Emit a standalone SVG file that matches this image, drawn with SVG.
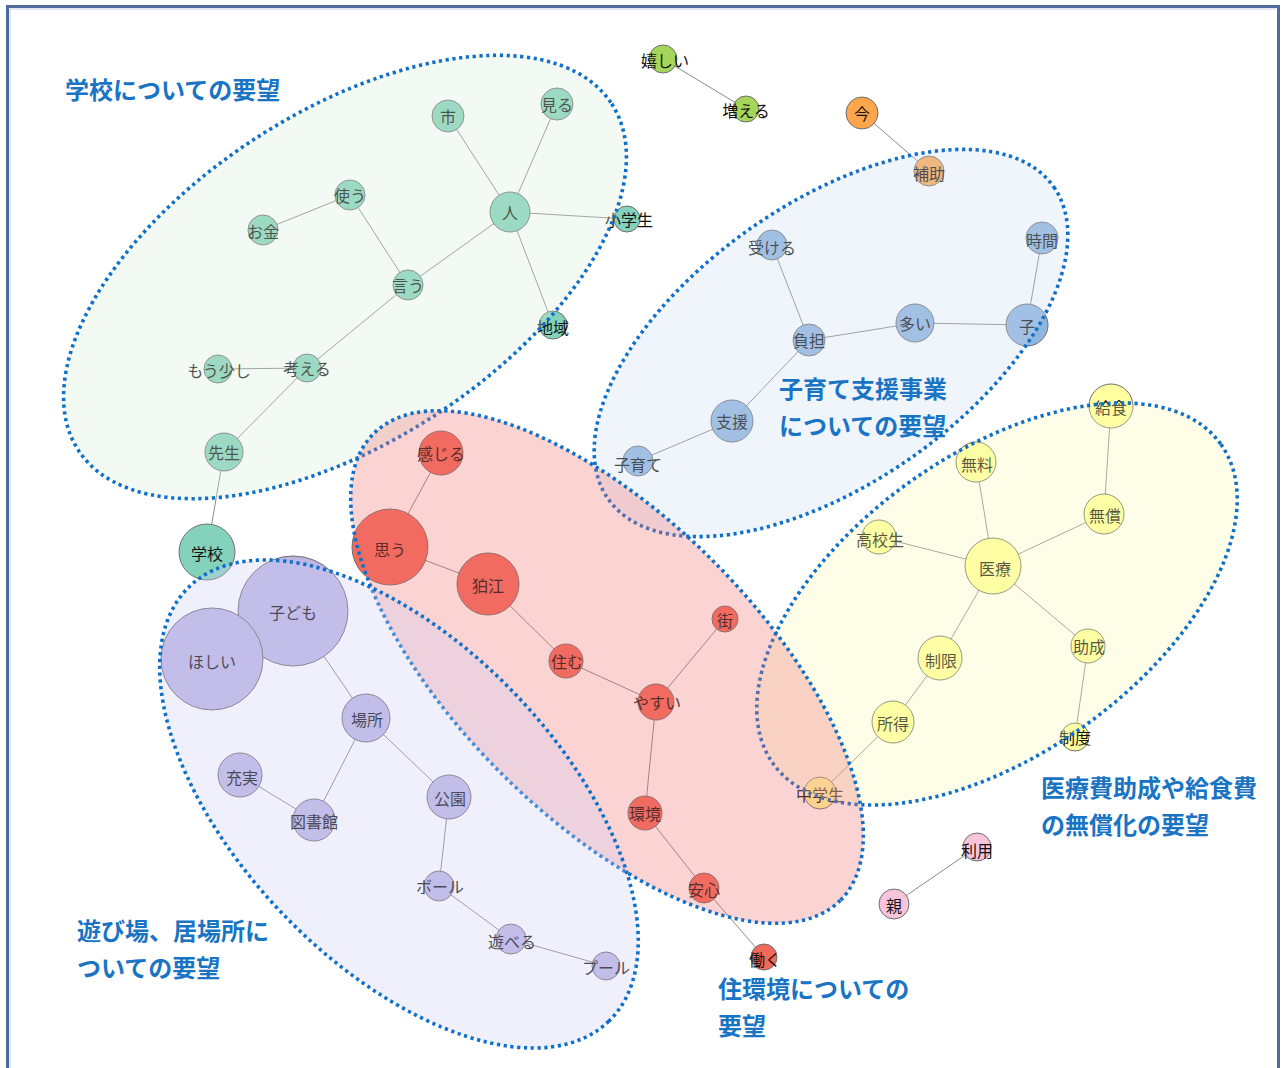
<svg xmlns="http://www.w3.org/2000/svg" width="1284" height="1068" viewBox="0 0 1284 1068">
<style>
.e{stroke:#8a8a8a;stroke-width:1;fill:none}
.n{stroke:#6e6e6e;stroke-width:1}
.t{font-family:"Noto Sans CJK JP","Noto Sans",sans-serif;font-size:16px;fill:#111;text-anchor:middle;dominant-baseline:central}
.L{font-family:"Noto Sans CJK JP","Noto Sans",sans-serif;font-size:24px;font-weight:bold;fill:#1a74c4}
.g{fill:#84d2bc}.r{fill:#f26a5b}.p{fill:#bdb6e4}.b{fill:#8fb4dd}.y{fill:#ffffa0}.o{fill:#ffa64d}.lg{fill:#a5d65a}.pk{fill:#f8c4dc}
.reg{fill-opacity:0.3;stroke:#1070c8;stroke-width:3.6;stroke-dasharray:3.2 3.6}
</style>
<rect x="0" y="0" width="1284" height="1068" fill="#ffffff"/>
<path d="M7.5 1070 V6.5 H1278.5 V1070" fill="none" stroke="#4f6a9c" stroke-width="3"/>
<path d="M10 1070 V9 H1276" fill="none" stroke="#c4d0e4" stroke-width="1"/>

<g id="connectors">
<line class="e" x1="448" y1="116" x2="510" y2="212"/>
<line class="e" x1="557" y1="104" x2="510" y2="212"/>
<line class="e" x1="510" y1="212" x2="627" y2="219"/>
<line class="e" x1="510" y1="212" x2="553" y2="325"/>
<line class="e" x1="510" y1="212" x2="408" y2="285"/>
<line class="e" x1="350" y1="195" x2="408" y2="285"/>
<line class="e" x1="350" y1="195" x2="263" y2="230"/>
<line class="e" x1="408" y1="285" x2="307" y2="368"/>
<line class="e" x1="307" y1="368" x2="218" y2="369"/>
<line class="e" x1="307" y1="368" x2="224" y2="452"/>
<line class="e" x1="224" y1="452" x2="207" y2="552"/>
<line class="e" x1="663" y1="59" x2="746" y2="109"/>
<line class="e" x1="862" y1="113" x2="929" y2="171"/>
<line class="e" x1="772" y1="245" x2="809" y2="340"/>
<line class="e" x1="809" y1="340" x2="915" y2="323"/>
<line class="e" x1="915" y1="323" x2="1027" y2="325"/>
<line class="e" x1="1027" y1="325" x2="1042" y2="238"/>
<line class="e" x1="809" y1="340" x2="732" y2="421"/>
<line class="e" x1="732" y1="421" x2="638" y2="461"/>
<line class="e" x1="441" y1="453" x2="390" y2="547"/>
<line class="e" x1="390" y1="547" x2="488" y2="584"/>
<line class="e" x1="488" y1="584" x2="566" y2="661"/>
<line class="e" x1="566" y1="661" x2="656" y2="702"/>
<line class="e" x1="725" y1="619" x2="656" y2="702"/>
<line class="e" x1="656" y1="702" x2="645" y2="813"/>
<line class="e" x1="645" y1="813" x2="704" y2="888"/>
<line class="e" x1="704" y1="888" x2="764" y2="957"/>
<line class="e" x1="293" y1="611" x2="366" y2="718"/>
<line class="e" x1="366" y1="718" x2="314" y2="820"/>
<line class="e" x1="366" y1="718" x2="449" y2="797"/>
<line class="e" x1="240" y1="775" x2="314" y2="820"/>
<line class="e" x1="449" y1="797" x2="439" y2="886"/>
<line class="e" x1="439" y1="886" x2="511" y2="939"/>
<line class="e" x1="511" y1="939" x2="606" y2="966"/>
<line class="e" x1="1111" y1="406" x2="1104" y2="514"/>
<line class="e" x1="1104" y1="514" x2="993" y2="566"/>
<line class="e" x1="976" y1="462" x2="993" y2="566"/>
<line class="e" x1="879" y1="537" x2="993" y2="566"/>
<line class="e" x1="993" y1="566" x2="940" y2="658"/>
<line class="e" x1="993" y1="566" x2="1088" y2="646"/>
<line class="e" x1="1088" y1="646" x2="1075" y2="737"/>
<line class="e" x1="940" y1="658" x2="893" y2="722"/>
<line class="e" x1="893" y1="722" x2="820" y2="793"/>
<line class="e" x1="977" y1="847" x2="894" y2="904"/>
</g>

<g id="node-市"><circle class="n g" cx="448" cy="116" r="16"/><text class="t" x="448" y="116">市</text></g>
<g id="node-見る"><circle class="n g" cx="557" cy="104" r="16"/><text class="t" x="557" y="104">見る</text></g>
<g id="node-人"><circle class="n g" cx="510" cy="212" r="20"/><text class="t" x="510" y="212">人</text></g>
<g id="node-小学生"><circle class="n g" cx="627" cy="219" r="13"/><text class="t" x="629" y="219">小学生</text></g>
<g id="node-使う"><circle class="n g" cx="350" cy="195" r="15"/><text class="t" x="350" y="195">使う</text></g>
<g id="node-お金"><circle class="n g" cx="263" cy="230" r="15"/><text class="t" x="263" y="231">お金</text></g>
<g id="node-言う"><circle class="n g" cx="408" cy="285" r="15"/><text class="t" x="408" y="285">言う</text></g>
<g id="node-地域"><circle class="n g" cx="553" cy="325" r="14"/><text class="t" x="553" y="327">地域</text></g>
<g id="node-もう少し"><circle class="n g" cx="218" cy="369" r="14"/><text class="t" x="219" y="370">もう少し</text></g>
<g id="node-考える"><circle class="n g" cx="307" cy="368" r="14"/><text class="t" x="307" y="368">考える</text></g>
<g id="node-先生"><circle class="n g" cx="224" cy="452" r="19"/><text class="t" x="224" y="452">先生</text></g>
<g id="node-学校"><circle class="n g" cx="207" cy="552" r="28" stroke="#444"/><text class="t" x="207" y="553">学校</text></g>

<g id="node-嬉しい"><circle class="n lg" cx="663" cy="59" r="14"/><text class="t" x="665" y="60">嬉しい</text></g>
<g id="node-増える"><circle class="n lg" cx="746" cy="109" r="13"/><text class="t" x="746" y="110">増える</text></g>
<g id="node-今"><circle class="n o" cx="862" cy="113" r="16"/><text class="t" x="862" y="113">今</text></g>
<g id="node-補助"><circle class="n o" cx="929" cy="171" r="15"/><text class="t" x="929" y="173">補助</text></g>

<g id="node-受ける"><circle class="n b" cx="772" cy="245" r="15"/><text class="t" x="772" y="247">受ける</text></g>
<g id="node-時間"><circle class="n b" cx="1042" cy="238" r="16"/><text class="t" x="1042" y="240">時間</text></g>
<g id="node-負担"><circle class="n b" cx="809" cy="340" r="16"/><text class="t" x="809" y="340">負担</text></g>
<g id="node-多い"><circle class="n b" cx="915" cy="323" r="19"/><text class="t" x="915" y="323">多い</text></g>
<g id="node-子"><circle class="n b" cx="1027" cy="325" r="21"/><text class="t" x="1027" y="326">子</text></g>
<g id="node-支援"><circle class="n b" cx="732" cy="421" r="21"/><text class="t" x="732" y="421">支援</text></g>
<g id="node-子育て"><circle class="n b" cx="638" cy="461" r="15"/><text class="t" x="638" y="464">子育て</text></g>

<g id="node-感じる"><circle class="n r" cx="441" cy="453" r="22"/><text class="t" x="441" y="453">感じる</text></g>
<g id="node-思う"><circle class="n r" cx="390" cy="547" r="38"/><text class="t" x="390" y="549">思う</text></g>
<g id="node-狛江"><circle class="n r" cx="488" cy="584" r="31"/><text class="t" x="488" y="585">狛江</text></g>
<g id="node-住む"><circle class="n r" cx="566" cy="661" r="17"/><text class="t" x="567" y="661">住む</text></g>
<g id="node-街"><circle class="n r" cx="725" cy="619" r="13"/><text class="t" x="725" y="620">街</text></g>
<g id="node-やすい"><circle class="n r" cx="656" cy="702" r="18"/><text class="t" x="657" y="702">やすい</text></g>
<g id="node-環境"><circle class="n r" cx="645" cy="813" r="17"/><text class="t" x="645" y="813">環境</text></g>
<g id="node-安心"><circle class="n r" cx="704" cy="888" r="15"/><text class="t" x="704" y="889">安心</text></g>
<g id="node-働く"><circle class="n r" cx="764" cy="957" r="13"/><text class="t" x="765" y="959">働く</text></g>

<g id="node-子ども"><circle class="n p" cx="293" cy="611" r="55"/><text class="t" x="293" y="612">子ども</text></g>
<g id="node-ほしい"><circle class="n p" cx="212" cy="659" r="51"/><text class="t" x="212" y="661">ほしい</text></g>
<g id="node-場所"><circle class="n p" cx="366" cy="718" r="24"/><text class="t" x="367" y="719">場所</text></g>
<g id="node-充実"><circle class="n p" cx="240" cy="775" r="22"/><text class="t" x="242" y="777">充実</text></g>
<g id="node-図書館"><circle class="n p" cx="314" cy="820" r="21"/><text class="t" x="314" y="821">図書館</text></g>
<g id="node-公園"><circle class="n p" cx="449" cy="797" r="22"/><text class="t" x="450" y="798">公園</text></g>
<g id="node-ボール"><circle class="n p" cx="439" cy="886" r="15"/><text class="t" x="440" y="886">ボール</text></g>
<g id="node-遊べる"><circle class="n p" cx="511" cy="939" r="15"/><text class="t" x="512" y="941">遊べる</text></g>
<g id="node-プール"><circle class="n p" cx="606" cy="966" r="14"/><text class="t" x="606" y="967">プール</text></g>

<g id="node-給食"><circle class="n y" cx="1111" cy="406" r="22"/><text class="t" x="1111" y="407">給食</text></g>
<g id="node-無料"><circle class="n y" cx="976" cy="462" r="20"/><text class="t" x="977" y="464">無料</text></g>
<g id="node-無償"><circle class="n y" cx="1104" cy="514" r="20"/><text class="t" x="1105" y="515">無償</text></g>
<g id="node-高校生"><circle class="n y" cx="879" cy="537" r="17"/><text class="t" x="880" y="539">高校生</text></g>
<g id="node-医療"><circle class="n y" cx="993" cy="566" r="28"/><text class="t" x="995" y="568">医療</text></g>
<g id="node-制限"><circle class="n y" cx="940" cy="658" r="22"/><text class="t" x="941" y="660">制限</text></g>
<g id="node-助成"><circle class="n y" cx="1088" cy="646" r="17"/><text class="t" x="1089" y="646">助成</text></g>
<g id="node-所得"><circle class="n y" cx="893" cy="722" r="21"/><text class="t" x="893" y="723">所得</text></g>
<g id="node-制度"><circle class="n y" cx="1075" cy="737" r="14"/><text class="t" x="1075" y="737">制度</text></g>
<g id="node-中学生"><circle class="n y" cx="820" cy="793" r="16"/><text class="t" x="820" y="794">中学生</text></g>

<g id="node-利用"><circle class="n pk" cx="977" cy="847" r="14"/><text class="t" x="977" y="850">利用</text></g>
<g id="node-親"><circle class="n pk" cx="894" cy="904" r="15"/><text class="t" x="894" y="905">親</text></g>

<g id="regions">
<ellipse class="reg" cx="345" cy="277" rx="318" ry="165" transform="rotate(-33 345 277)" fill="#d7eed7"/>
<ellipse class="reg" cx="831" cy="343" rx="272" ry="140" transform="rotate(-35 831 343)" fill="#cddef2"/>
<ellipse class="reg" cx="997" cy="604" rx="275" ry="150" transform="rotate(-35.5 997 604)" fill="#fcfcb2"/>
<ellipse class="reg" cx="607" cy="667" rx="330" ry="150" transform="rotate(45 607 667)" fill="#f26c6c"/>
<ellipse class="reg" cx="399" cy="804" rx="302" ry="160" transform="rotate(46 399 804)" fill="#cdcdf5"/>
</g>

<g id="labels">
<text class="L" x="65" y="99">学校についての要望</text>
<text class="L" x="779" y="398">子育て支援事業</text>
<text class="L" x="779" y="435">についての要望</text>
<text class="L" x="1041" y="797">医療費助成や給食費</text>
<text class="L" x="1041" y="834">の無償化の要望</text>
<text class="L" x="77" y="940">遊び場、居場所に</text>
<text class="L" x="77" y="977">ついての要望</text>
<text class="L" x="718" y="998">住環境についての</text>
<text class="L" x="718" y="1035">要望</text>
</g>
</svg>
